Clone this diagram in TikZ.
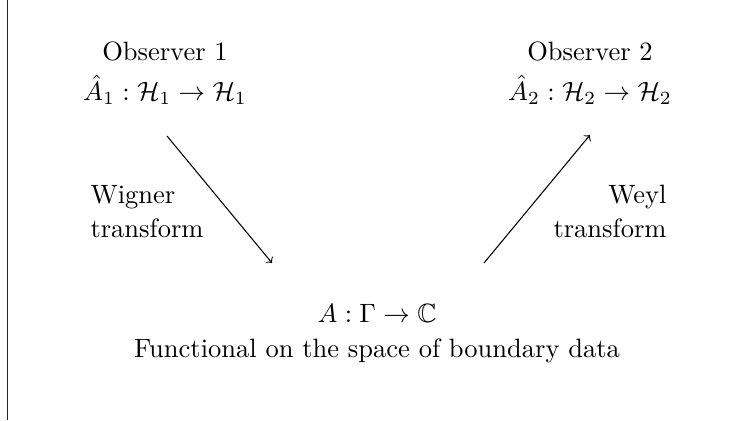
\documentclass[tikz,border=0pt]{standalone}
\usepackage{amssymb}
\begin{document}
\begin{tikzpicture}[x=0.3774pt,y=-0.3774pt,
  lbl/.style={inner sep=0pt},
  arr/.style={->, thin}]
\useasboundingbox (0,0) rectangle (738,421);
\draw[black!85, line width=0.6pt] (7.5,0) -- (7.5,420);
\node[lbl, anchor=base] (obs1) at (165,61) {Observer 1};
\node[lbl, anchor=base] (map1) at (165,100.5) {$\hat{A}_1 : \mathcal{H}_1 \to \mathcal{H}_1$};
\node[lbl, anchor=base] (obs2) at (590,61) {Observer 2};
\node[lbl, anchor=base] (map2) at (590,100.5) {$\hat{A}_2 : \mathcal{H}_2 \to \mathcal{H}_2$};
\node[lbl, anchor=base west] (wig1) at (90,203) {Wigner};
\node[lbl, anchor=base west] (wig2) at (90,237) {transform};
\node[lbl, anchor=base east] (wey1) at (667,203) {Weyl};
\node[lbl, anchor=base east] (wey2) at (667,237) {transform};
\node[lbl, anchor=base] (fun) at (377,322) {$A : \Gamma \to \mathbb{C}$};
\node[lbl, anchor=base] (desc) at (377,357) {Functional on the space of boundary data};
\coordinate (wA) at (167,136);
\coordinate (wB) at (272,263);
\coordinate (yA) at (484,263);
\coordinate (yB) at (590,135);
\draw[arr] (wA) -- (wB);
\draw[arr] (yA) -- (yB);
\end{tikzpicture}
\end{document}
